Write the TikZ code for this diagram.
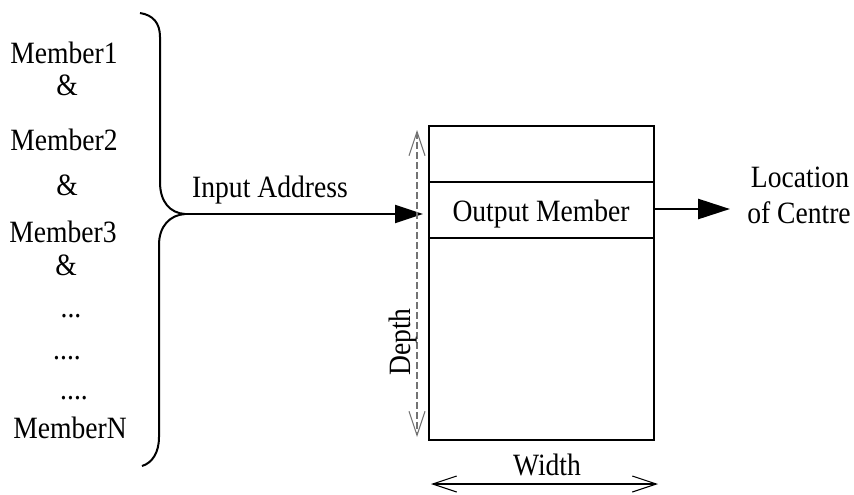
\documentclass[tikz,border=0pt]{standalone}
\usepackage{fontspec}
\setmainfont[FakeStretch=0.89]{Liberation Serif}
\usetikzlibrary{arrows.meta}
\newcommand\pxu{0.75pt}
\begin{document}
\begin{tikzpicture}[x=0.75pt,y=-0.75pt,
  txt/.style={inner sep=0pt,font=\fontsize{23.25}{28}\selectfont},
  lbl/.style={txt,anchor=base},
  cell/.style={draw,line width=1.5pt,minimum width=225*\pxu,inner sep=0pt},
  feed/.style={line width=1.5pt,-{Triangle[length=21pt,width=13.5pt]}},
  dimline/.style={line width=0.8pt,{Straight Barb[length=18pt,width=12pt]}-{Straight Barb[length=18pt,width=12pt]}}]
\useasboundingbox (0,0) rectangle (854,494);

% list of members
\node[lbl] (m1) at (64,63)  {Member1};
\node[lbl] (a1) at (67,95)  {\&};
\node[lbl] (m2) at (64,150) {Member2};
\node[lbl] (a2) at (67,195) {\&};
\node[lbl] (m3) at (63,242) {Member3};
\node[lbl] (a3) at (66,275) {\&};
\node[lbl] (d1) at (71,317) {...};
\node[lbl] (d2) at (67,359) {....};
\node[lbl] (d3) at (74,399) {....};
\node[lbl] (mn) at (70,438) {MemberN};

% curly brace gathering the members
\coordinate (tip) at (185,214);
\draw[line width=1.5pt] (140,13) .. controls (153,15) and (160,23) .. (160,37)
  -- (160,182) .. controls (160,202) and (170,213) .. (tip);
\draw[line width=1.5pt] (tip) .. controls (170,215) and (159,226) .. (159,245)
  -- (159,437) .. controls (159,453) and (152,463) .. (142,466);

% memory table
\node[cell,minimum height=56*\pxu]  (top) at (541.5,154) {};
\node[cell,minimum height=56*\pxu]  (mem) at (541.5,210) {};
\node[cell,minimum height=202*\pxu] (bot) at (541.5,339) {};
\node[lbl] (memtxt) at (541,221) {Output Member};

% input address
\coordinate (inend) at (423,214);
\draw[feed] (tip) -- (inend);
\node[lbl] (inlbl) at (270,197) {Input Address};

% output
\coordinate (outend) at (730,209);
\draw[line width=2pt,-{Triangle[length=24pt,width=15pt]}] (mem.east |- outend) -- (outend);
\node[lbl] (loc1) at (800,187) {Location};
\node[lbl] (loc2) at (799,223) {of Centre};

% depth dimension
\coordinate (dtop) at (417,130);
\coordinate (dbot) at (417,437);
\draw[dimline,black!55,dash pattern=on 5pt off 2.5pt] (dtop) -- (dbot);
\node[txt,rotate=90] (dlbl) at (403,342) {Depth};

% width dimension
\coordinate (wl) at (431,484);
\coordinate (wr) at (658,484);
\draw[dimline] (wl) -- (wr);
\node[lbl] (wlbl) at (547,475) {Width};
\end{tikzpicture}
\end{document}
